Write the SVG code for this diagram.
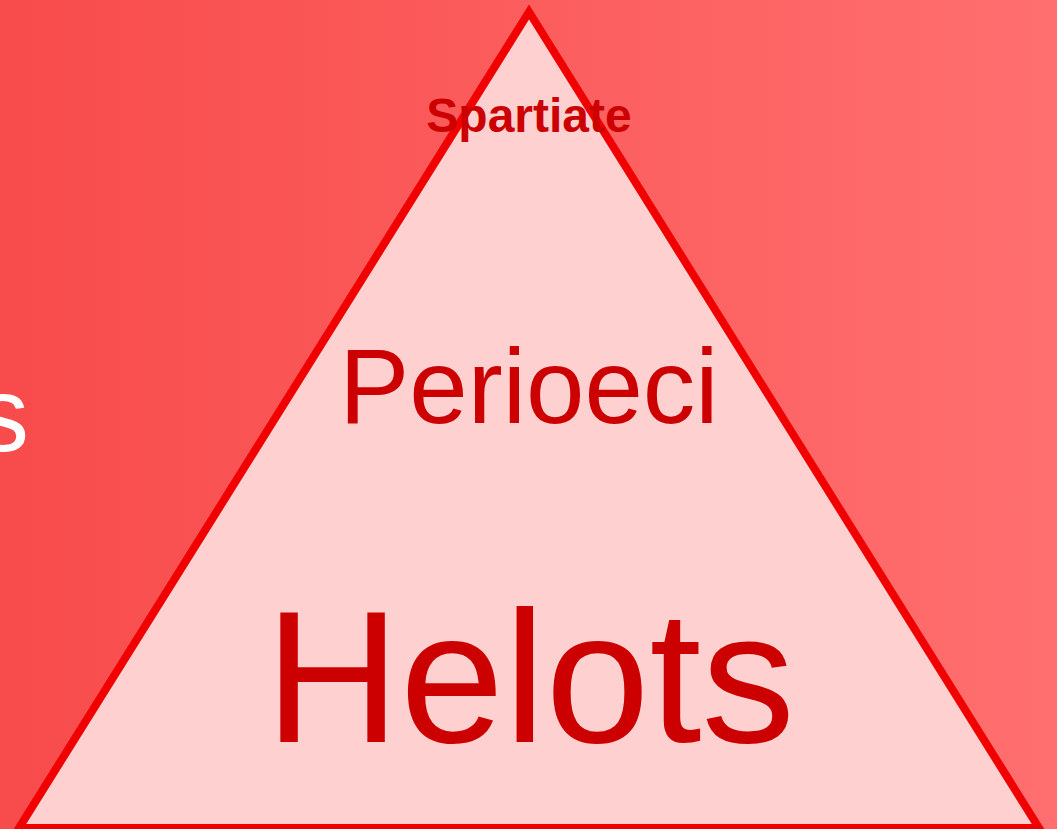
<svg xmlns="http://www.w3.org/2000/svg" width="1057" height="829" viewBox="0 0 1057 829">
  <defs>
    <linearGradient id="bg" x1="0" y1="0" x2="1" y2="0">
      <stop offset="0" stop-color="#f84b4b"/>
      <stop offset="1" stop-color="#ff6f6f"/>
    </linearGradient>
    <style>
      .lbl { font-family: "Liberation Sans", Arial, sans-serif; fill: #cc0000; text-anchor: middle; }
    </style>
  </defs>
  <rect x="0" y="0" width="1057" height="829" fill="url(#bg)"/>
  <text x="29" y="451" font-family="Liberation Sans, Arial, sans-serif" font-size="105" fill="#ffffff" text-anchor="end">s</text>
  <g id="pyramid">
    <polygon points="529,12 19,828 1039,828" fill="#ffd0d0" stroke="#f00000" stroke-width="8" stroke-linejoin="miter" stroke-miterlimit="10"/>
  </g>
  <g id="connectors"></g>
  <g id="spartiate">
    <text class="lbl" x="529" y="132" font-size="48" font-weight="bold">Spartiate</text>
  </g>
  <g id="perioeci">
    <text class="lbl" x="529" y="423" font-size="105">Perioeci</text>
  </g>
  <g id="helots">
    <text class="lbl" x="530" y="742" font-size="187">Helots</text>
  </g>
</svg>
